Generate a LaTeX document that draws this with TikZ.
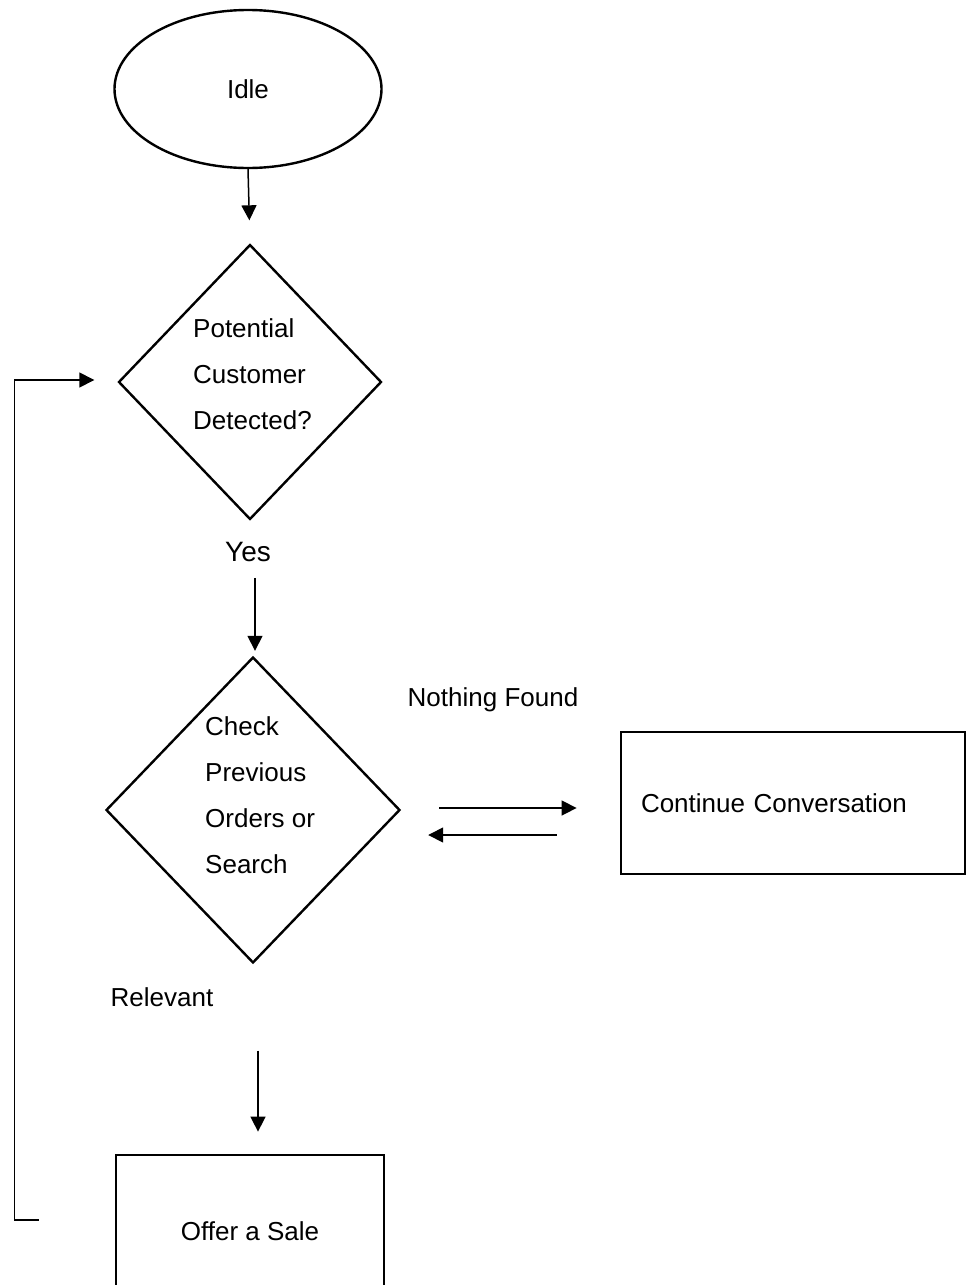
\documentclass[tikz,border=0pt]{standalone}
\usepackage{fontspec}
\setmainfont{Liberation Sans}
\usetikzlibrary{shapes.geometric,arrows.meta,calc}

\begin{document}
\begin{tikzpicture}[x=1pt,y=-1pt,
  every node/.style={font=\fontsize{26}{46}\selectfont, inner sep=0pt},
  state/.style={draw, ellipse, line width=2.4pt, minimum width=267pt, minimum height=158pt},
  decision/.style={draw, diamond, line width=2.4pt},
  process/.style={draw, rectangle, line width=2.8pt},
  flow/.style={-{Triangle[length=15pt,width=15pt]}, line width=1.5pt}]
\useasboundingbox (0,0) rectangle (971,1285);
% states and decisions
\node [state] (idle) at (248,89) {Idle};
\node [decision, minimum width=263pt, minimum height=275pt] (detect) at (250,382) {};
\node [align=left, anchor=north west] (detecttxt) at (193,318) {Potential\\Customer\\Detected?};
\node [font=\fontsize{28}{34}\selectfont] (yes) at (248,552) {Yes};
\node [decision, minimum width=294pt, minimum height=306pt] (check) at (253,810) {};
\node [align=left, anchor=north west] (checktxt) at (205,716) {Check\\Previous\\Orders or\\Search};
\node (nothing) at (493,700) {Nothing Found};
\node [process, minimum width=344pt, minimum height=142pt, text width=304pt, align=left] (cont) at (793,803) {Continue Conversation};
\node (relevant) at (162,997) {Relevant};
\node [process, minimum width=268pt, minimum height=152pt] (offer) at (250,1231) {Offer a Sale};
% connectors
\draw [flow, shorten >=23pt] (idle.south) -- (detect.north);
\draw [flow] ($(yes.south)+(7,16)$) -- ($(check.north)+(2,-5)$);
\draw [flow] ($(check.east)+(38,-2)$) -- ($(cont.west)+(-43,5)$);
\draw [flow] ($(cont.west)+(-63,32)$) -- ($(check.east)+(27,25)$);
\draw [flow] ($(offer.north)+(8,-103)$) -- ($(offer.north)+(8,-22)$);
\draw [flow] ($(offer.west)+(-76,-11)$) -- ++(-24,0) |- ($(detect.west)+(-23,-2)$);
\end{tikzpicture}
\end{document}
